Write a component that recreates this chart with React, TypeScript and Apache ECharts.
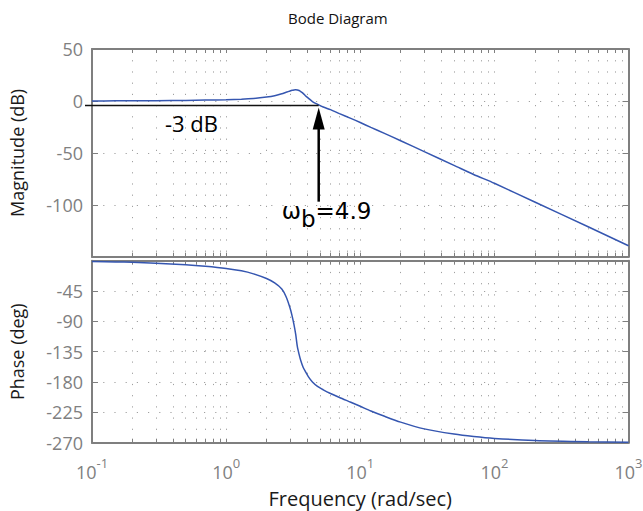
import React, { useEffect, useRef } from 'react';
import * as echarts from 'echarts';

// ---- data ----
const frequency = [
  0.1, 0.15, 0.2, 0.3, 0.5, 0.7, 1, 1.3, 1.6, 2, 2.3, 2.6, 2.8, 3, 3.1, 3.2, 3.3, 3.4, 3.5, 3.6,
  3.75, 3.9, 4.1, 4.4, 4.8, 5.3, 6, 7, 8.5, 10, 12, 15, 20, 30, 50, 70, 100, 200, 500, 1000,
];
const magnitudeDb = [
  0.0, 0.05, 0.1, 0.2, 0.5, 0.8, 1.1, 1.6, 2.3, 3.7, 5.0, 6.9, 8.3, 9.6, 10.2, 10.6, 10.8, 10.6, 10.0, 9.0,
  7.3, 5.0, 2.7, -0.6, -3.2, -5.9, -8.4, -12.2, -16.8, -20.8, -25.5, -31.0, -38.3, -48.8, -62.0, -70.8, -79.3, -97.3, -121.2, -139.5,
];
const phaseDeg = [
  -1.2, -1.8, -2.4, -3.6, -6.0, -8.3, -11.5, -15, -19.5, -26.5, -33, -42, -53.5, -70.5, -81.5, -94, -109, -128, -139, -148,
  -158, -164.5, -172, -180, -186.5, -191.5, -197, -203, -210, -216, -223, -230.5, -239.5, -249.5, -257.2, -260.8, -263.6, -266.8, -268.7, -269.4,
];
const decadeTicks = [0.1, 1, 10, 100, 1000];
const minorMultipliers = [2, 3, 4, 5, 6, 7, 8, 9];
const magAxis = { min: -150, max: 50, interval: 50 };
const phaseAxis = { min: -270, max: 0, interval: 45 };
const cutoffFreq = 4.9;
const cutoffLineDb = -4.5;
const arrowTailDb = -97;
const dbLabelFreq = 0.35;
const titleText = 'Bode Diagram';
const magName = 'Magnitude (dB)';
const phaseName = 'Phase (deg)';
const freqName = 'Frequency (rad/sec)';
const cutoffLabel = '-3 dB';

// ---- styles ----
const FONT = '"Open Sans", "DejaVu Sans", sans-serif';
const WIDE_FONT = '"DejaVu Sans", sans-serif';
const AXIS_COLOR = '#7f7f7f';
const LABEL_COLOR = '#808080';
const GRID_COLOR = '#a0a0a0';
const CURVE_COLOR = '#3556b0';

const xTickValues = decadeTicks.concat(
  decadeTicks.slice(0, -1).flatMap((d) => minorMultipliers.map((k) => k * d))
);

const grids = [
  { left: 92, top: 49, width: 536.5, height: 207.7 },
  { left: 92, top: 260.7, width: 536.5, height: 182 },
];

function xAxis(gridIndex: number, position: 'top' | 'bottom', showLabel: boolean, name?: string) {
  return {
    type: 'log',
    logBase: 10,
    gridIndex,
    position,
    min: 0.1,
    max: 1000,
    name: name || '',
    nameLocation: 'middle',
    nameGap: 43,
    nameTextStyle: { fontFamily: FONT, fontSize: 20, color: '#1a1a1a' },
    axisLine: { show: true, onZero: false, lineStyle: { color: AXIS_COLOR, width: 2 } },
    axisTick: {
      show: true,
      inside: true,
      length: 4,
      customValues: xTickValues,
      lineStyle: { color: AXIS_COLOR, width: 1 },
    },
    minorTick: { show: false },
    axisLabel: {
      show: showLabel,
      customValues: decadeTicks,
      margin: 14,
      fontFamily: FONT,
      fontSize: 18,
      lineHeight: 31,
      color: LABEL_COLOR,
      formatter: (v: number) => `10{sup|${Math.round(Math.log10(v))}}`,
      rich: {
        sup: { fontFamily: FONT, fontSize: 13, lineHeight: 13, verticalAlign: 'top', color: LABEL_COLOR },
      },
    },
    splitLine: {
      show: position === 'bottom',
      lineStyle: { color: GRID_COLOR, width: 1, type: [1.2, 10] },
    },
  };
}

function yAxis(gridIndex: number, position: 'left' | 'right', range: any, name?: string, hide?: 'min' | 'max') {
  const left = position === 'left';
  return {
    type: 'value',
    gridIndex,
    position,
    ...range,
    name: name || '',
    nameLocation: 'middle',
    nameGap: 66,
    nameTextStyle: { fontFamily: FONT, fontSize: 18, color: '#1a1a1a' },
    axisLine: { show: true, onZero: false, lineStyle: { color: AXIS_COLOR, width: 2 } },
    axisTick: { show: true, inside: true, length: 6, lineStyle: { color: AXIS_COLOR, width: 1 } },
    axisLabel: {
      show: left,
      margin: 9,
      fontFamily: FONT,
      fontSize: 18,
      color: LABEL_COLOR,
      showMinLabel: hide !== 'min',
      showMaxLabel: hide !== 'max',
    },
    splitLine: {
      show: left,
      lineStyle: { color: GRID_COLOR, width: 1, type: [1.2, 10] },
    },
  };
}

export default function App() {
  const ref = useRef<HTMLDivElement>(null);
  useEffect(() => {
    document.body.style.margin = '0';
    const chart = echarts.init(ref.current!, null, { renderer: 'svg' });
    const option: any = {
      animation: false,
      backgroundColor: '#ffffff',
      title: {
        text: titleText,
        left: 283,
        top: 5,
        textStyle: { fontFamily: FONT, fontSize: 15, fontWeight: 'normal', color: '#111' },
      },
      grid: grids.map((g) => ({ ...g, containLabel: false, outerBoundsMode: 'none' })),
      xAxis: [
        xAxis(0, 'bottom', false),
        xAxis(0, 'top', false),
        xAxis(1, 'bottom', true, freqName),
        xAxis(1, 'top', false),
      ],
      yAxis: [
        yAxis(0, 'left', magAxis, magName, 'min'),
        yAxis(0, 'right', magAxis),
        yAxis(1, 'left', phaseAxis, phaseName, 'max'),
        yAxis(1, 'right', phaseAxis),
      ],
      series: [
        {
          type: 'line',
          xAxisIndex: 0,
          yAxisIndex: 0,
          data: frequency.map((f, i) => [f, magnitudeDb[i]]),
          showSymbol: false,
          smooth: 0.25,
          lineStyle: { color: CURVE_COLOR, width: 1.5 },
          z: 5,
        },
        {
          type: 'line',
          xAxisIndex: 2,
          yAxisIndex: 2,
          data: frequency.map((f, i) => [f, phaseDeg[i]]),
          showSymbol: false,
          smooth: 0.25,
          lineStyle: { color: CURVE_COLOR, width: 1.5 },
          z: 5,
        },
      ],
    };
    chart.setOption(option);

    const toPx = (f: number, v: number) => chart.convertToPixel({ gridIndex: 0 }, [f, v]) as number[];
    const [axisLeftX] = toPx(decadeTicks[0], 0);
    const [arrowX, lineY] = toPx(cutoffFreq, cutoffLineDb);
    const [, tailY] = toPx(cutoffFreq, arrowTailDb);
    const [labelX] = toPx(dbLabelFreq, 0);

    chart.setOption({
      graphic: [
        {
          type: 'line',
          z: 100,
          shape: { x1: axisLeftX - 7, y1: lineY, x2: arrowX, y2: lineY },
          style: { stroke: '#111', lineWidth: 1.5 },
        },
        {
          type: 'line',
          z: 100,
          shape: { x1: arrowX, y1: lineY + 20, x2: arrowX, y2: tailY },
          style: { stroke: '#000', lineWidth: 2.5 },
        },
        {
          type: 'polygon',
          z: 100,
          shape: { points: [[arrowX, lineY + 2], [arrowX - 6, lineY + 24], [arrowX + 6, lineY + 24]] },
          style: { fill: '#000' },
        },
        {
          type: 'text',
          z: 100,
          x: labelX,
          y: lineY + 17,
          style: {
            text: cutoffLabel,
            fill: '#000',
            font: `22px ${FONT}`,
            align: 'left',
            verticalAlign: 'middle',
            textAlign: 'left',
            textVerticalAlign: 'middle',
          },
        },
        {
          type: 'text',
          z: 100,
          x: arrowX - 37,
          y: tailY + 9,
          style: {
            text: '{w|ω}{s|b}{w|=4.9}',
            fill: '#000',
            font: `23px ${WIDE_FONT}`,
            align: 'left',
            verticalAlign: 'middle',
            textAlign: 'left',
            textVerticalAlign: 'middle',
            rich: {
              w: { fontFamily: WIDE_FONT, fontSize: 23, lineHeight: 40, verticalAlign: 'middle', fill: '#000', color: '#000' },
              s: { fontFamily: WIDE_FONT, fontSize: 23, verticalAlign: 'bottom', fill: '#000', color: '#000' },
            },
          },
        },
      ],
    });
    return () => chart.dispose();
  }, []);
  return <div ref={ref} style={{ width: 643, height: 511 }} />;
}
